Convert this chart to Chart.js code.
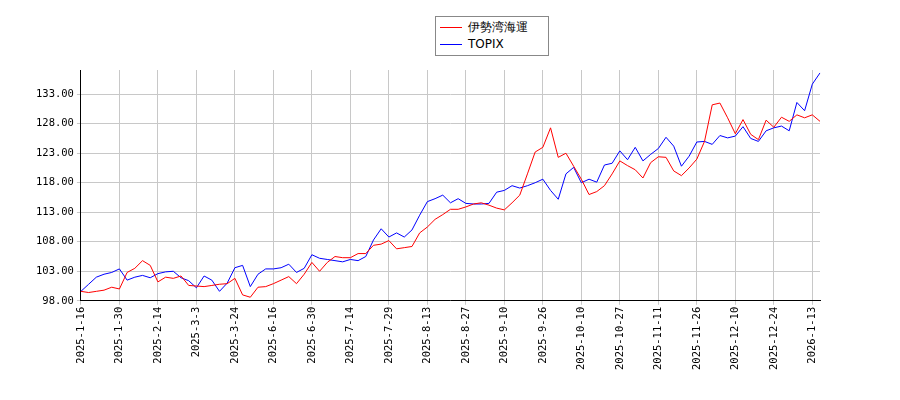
<!DOCTYPE html>
<html>
<head>
<meta charset="utf-8">
<script src="https://cdn.jsdelivr.net/npm/chart.js@4/dist/chart.umd.min.js"></script>
<style>
  body { margin: 0; background: #fff; }
  #wrap { position: relative; width: 900px; height: 400px; }
  #legend {
    position: absolute; left: 435px; top: 16px; width: 104px;
    border: 1px solid #888; background: #fff;
    font: 12px "DejaVu Sans", sans-serif; padding: 2px 4px;
  }
  #legend div { height: 17px; line-height: 17px; white-space: nowrap; }
  #legend span { display: inline-block; width: 22px; height: 0; border-top: 1px solid; vertical-align: middle; margin-right: 6px; }
</style>
</head>
<body>
<div id="wrap">
  <canvas id="c" width="900" height="400"></canvas>
  <div id="legend">
    <div><span style="border-color:#ff0000"></span>伊勢湾海運</div>
    <div><span style="border-color:#0000ff"></span>TOPIX</div>
  </div>
</div>
<script>
// tick dates, one every 5 points (each point = 2 trading days)
const tickDates = ['2025-1-16','2025-1-30','2025-2-14','2025-3-3','2025-3-24','2025-6-16','2025-6-30',
  '2025-7-14','2025-7-29','2025-8-13','2025-8-27','2025-9-10','2025-9-26','2025-10-10','2025-10-27',
  '2025-11-11','2025-11-26','2025-12-10','2025-12-24','2026-1-13'];
const yTicks = [98, 103, 108, 113, 118, 123, 128, 133];

const iseWan = [99.6, 99.4, 99.6, 99.8, 100.3, 100.0, 102.8, 103.5, 104.8, 104.0,
  101.2, 102.0, 101.8, 102.2, 100.6, 100.5, 100.4, 100.6, 100.8, 100.9,
  101.8, 99.0, 98.6, 100.3, 100.4, 100.9, 101.5, 102.1, 100.9, 102.5,
  104.5, 103.0, 104.5, 105.5, 105.3, 105.3, 106.0, 106.0, 107.4, 107.6,
  108.2, 106.8, 107.0, 107.2, 109.5, 110.5, 111.8, 112.6, 113.5, 113.5,
  113.9, 114.4, 114.6, 114.2, 113.7, 113.4, 114.6, 115.9, 119.5, 123.2,
  124.0, 127.3, 122.3, 123.0, 120.8, 118.6, 116.0, 116.5, 117.5, 119.5,
  121.7, 120.9, 120.2, 118.8, 121.4, 122.4, 122.3, 120.0, 119.2, 120.5,
  122.0, 125.0, 131.2, 131.5, 129.0, 126.3, 128.7, 126.2, 125.3, 128.6,
  127.4, 129.1, 128.4, 129.5, 129.0, 129.5, 128.4];

const topix = [99.6, 100.8, 102.0, 102.5, 102.8, 103.4, 101.5, 102.0, 102.3, 101.9,
  102.6, 102.9, 103.0, 101.9, 101.4, 100.2, 102.2, 101.5, 99.6, 101.0,
  103.6, 104.0, 100.4, 102.5, 103.4, 103.4, 103.6, 104.2, 102.8, 103.5,
  105.8, 105.2, 105.0, 104.8, 104.6, 105.0, 104.8, 105.5, 108.3, 110.2,
  108.8, 109.5, 108.8, 110.0, 112.5, 114.8, 115.3, 115.9, 114.6, 115.3,
  114.5, 114.4, 114.4, 114.5, 116.4, 116.7, 117.5, 117.1, 117.5, 118.0,
  118.6, 116.7, 115.2, 119.5, 120.6, 118.0, 118.6, 118.1, 121.0, 121.3,
  123.4, 121.9, 124.0, 121.7, 122.8, 123.8, 125.7, 124.2, 120.8, 122.5,
  124.9, 125.0, 124.5, 126.0, 125.6, 125.9, 127.5, 125.5, 125.0, 126.8,
  127.3, 127.6, 126.8, 131.6, 130.2, 134.7, 136.6];

const labels = iseWan.map((v, i) => (i % 5 === 0 ? tickDates[i / 5] : ''));
const tickFont = { family: 'DejaVu Sans Mono', size: 10.5 };

new Chart(document.getElementById('c'), {
  type: 'line',
  data: {
    labels: labels,
    datasets: [
      { label: '伊勢湾海運', data: iseWan, borderColor: '#ff0000', borderWidth: 1, pointRadius: 0, tension: 0 },
      { label: 'TOPIX', data: topix, borderColor: '#0000ff', borderWidth: 1, pointRadius: 0, tension: 0 }
    ]
  },
  options: {
    responsive: false,
    animation: false,
    layout: { padding: { left: 33, right: 80, top: 70, bottom: 28 } },
    plugins: { legend: { display: false }, tooltip: { enabled: false } },
    scales: {
      x: {
        offset: false,
        grid: {
          color: ctx => (ctx.index % 5 === 0 ? '#c8c8c8' : 'rgba(0,0,0,0)'),
          tickLength: 4
        },
        border: { color: '#000' },
        ticks: {
          autoSkip: false, maxRotation: 90, minRotation: 90, color: '#000',
          font: tickFont, padding: 2,
          callback: (v, i) => labels[i]
        }
      },
      y: {
        min: 98, max: 137.1,
        afterBuildTicks: axis => { axis.ticks = yTicks.map(v => ({ value: v })); },
        grid: { color: '#c8c8c8', tickLength: 4 },
        border: { color: '#000' },
        ticks: {
          color: '#000', font: tickFont,
          callback: v => v.toFixed(2)
        }
      }
    }
  }
});
</script>
</body>
</html>
